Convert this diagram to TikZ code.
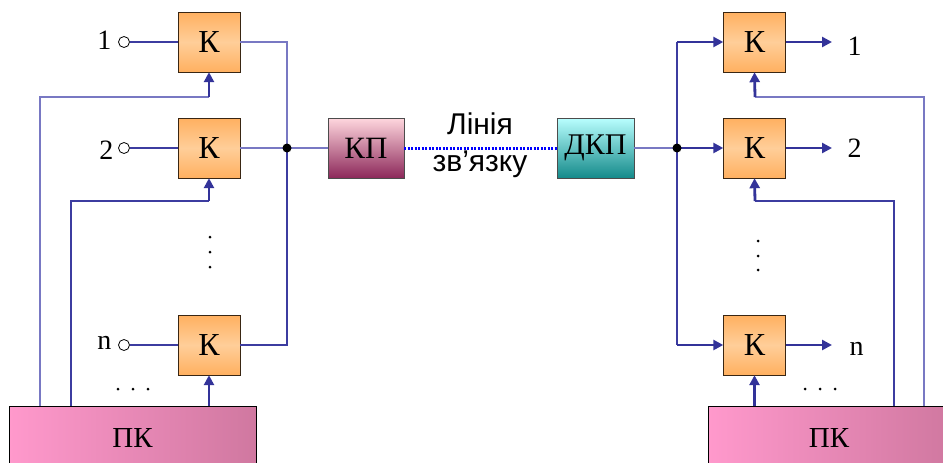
\documentclass[tikz,border=0pt]{standalone}
\usepackage{fontspec}
\setmainfont{Liberation Serif}
\newfontfamily\sansfont{Liberation Sans}
\usetikzlibrary{arrows.meta,positioning,calc}

\definecolor{wire}{RGB}{60,60,160}
\definecolor{wirelt}{RGB}{120,120,195}
\definecolor{arrcol}{RGB}{51,51,153}
\definecolor{korange}{RGB}{255,176,96}
\definecolor{korangelt}{RGB}{255,206,153}
\definecolor{pkpink}{RGB}{255,153,204}
\definecolor{pkdark}{RGB}{208,120,160}
\begin{document}
\begin{tikzpicture}[x=1pt,y=-1pt,
    kbox/.style={draw=black!70!brown, minimum width=62pt, minimum height=60pt, inner sep=0pt,
        top color=korange, bottom color=korange, middle color=korangelt, font=\fontsize{32}{34}\selectfont},
    pkbox/.style={draw=black, minimum height=64pt, inner sep=0pt,
        left color=pkpink, right color=pkdark, font=\fontsize{29}{31}\selectfont},
    wln/.style={wirelt, line width=1.2pt},
    wdk/.style={wire, line width=1.2pt},
    arr/.style={-{Triangle[length=10pt,width=10pt]}, arrcol, line width=2.8pt},
    inp/.style={circle, draw, fill=white, minimum size=11pt, inner sep=0pt, line width=0.8pt},
    num/.style={font=\fontsize{28}{30}\selectfont, anchor=east},
    jdot/.style={circle, fill=black, minimum size=9pt, inner sep=0pt}
]
\useasboundingbox (0,0) rectangle (943,463);

% transmitter side
\node[kbox] (kl1) at (209,42) {К};
\node[kbox] (kl2) at (209,148) {К};
\node[kbox] (kln) at (209,345) {К};
\node[inp] (in1) at (124,42) {};
\node[inp] (in2) at (124,148) {};
\node[inp] (inn) at (124,345) {};
\node[num] at (115,40) {1};
\node[num] at (117,150) {2};
\node[num] at (115,343) {n};
\draw[wdk] (in1) -- (kl1);
\draw[wdk] (in2) -- (kl2);
\draw[wdk] (inn) -- (kln);

\coordinate (jl) at (287,148);
\draw[wln] (kl1.east) -| (jl);
\draw[wln] (kl2.east) -- (jl);
\draw[wdk] (kln.east) -| (jl);

\node[pkbox, minimum width=247pt] (pkl) at (132.5,438) {ПК};
\coordinate (cl1) at (209,97);
\coordinate (cl2) at (209,201);
\draw[wln] (pkl.north west -| 40,0) |- (cl1);
\draw[wdk] (pkl.north west -| 71,0) |- (cl2);
\draw[arr] (cl1) -- (kl1.south);
\draw[arr] (cl2) -- (kl2.south);
\draw[arr] (pkl.north west -| kln.south) -- (kln.south);

% line of communication
\node[draw=black!70, minimum width=76pt, minimum height=60pt, inner sep=0pt,
    top color={rgb,255:red,255;green,215;blue,222}, bottom color={rgb,255:red,140;green,40;blue,90},
    font=\fontsize{31}{33}\selectfont] (kp) at (366,148) {КП};
\node[draw=black!70, minimum width=77pt, minimum height=60pt, inner sep=0pt,
    top color={rgb,255:red,185;green,255;blue,255}, bottom color={rgb,255:red,20;green,138;blue,138},
    font=\fontsize{30}{32}\selectfont] (dkp) at (595.5,148) {ДКП};
\draw[wln] (jl) -- (kp.west);
\draw[blue, line width=3pt, dash pattern=on 2pt off 1.5pt] (kp.east) -- (dkp.west);
\node[font=\sansfont\fontsize{30}{32}\selectfont] (ln1) at (480,124) {Лінія};
\node[font=\sansfont\fontsize{30}{32}\selectfont] (ln2) at (480,164) {зв’язку};
\node[jdot] at (jl) {};

% receiver side
\node[kbox] (kr1) at (754.5,42) {К};
\node[kbox] (kr2) at (754.5,148) {К};
\node[kbox] (krn) at (754.5,345) {К};
\coordinate (jr) at (677,148);
\draw[wln] (dkp.east) -- (jr);
\draw[wdk] (jr |- kr1) -- (jr |- krn);
\draw[arr] (jr |- kr1) -- (kr1.west);
\draw[arr] (jr) -- (kr2.west);
\draw[arr] (jr |- krn) -- (krn.west);
\node[jdot] at (jr) {};
\coordinate (o1) at (832,42);
\coordinate (o2) at (832,148);
\coordinate (on) at (832,345);
\draw[arr] (kr1.east) -- (o1);
\draw[arr] (kr2.east) -- (o2);
\draw[arr] (krn.east) -- (on);
\node[num, anchor=west] at (844,46) {1};
\node[num, anchor=west] at (844,148) {2};
\node[num, anchor=west] at (846,349) {n};

\node[pkbox, minimum width=242pt] (pkr) at (829,438) {ПК};
\coordinate (cr1) at (755,97);
\coordinate (cr2) at (755,201);
\draw[wln] (pkr.north west -| 924,0) |- (cr1);
\draw[wdk] (pkr.north west -| 894,0) |- (cr2);
\draw[arr] (cr1) -- (kr1.south);
\draw[arr] (cr2) -- (kr2.south);
\draw[arr] (pkr.north west -| krn.south) -- (krn.south);

% dots
\foreach \y in {237,252,267} \fill (210,\y) circle (1.5pt);
\foreach \y in {241,256,270} \fill (758,\y) circle (1.5pt);
\foreach \x in {118,133,148} \fill (\x,389) circle (1.5pt);
\foreach \x in {805,820,835} \fill (\x,389) circle (1.5pt);
\end{tikzpicture}
\end{document}
